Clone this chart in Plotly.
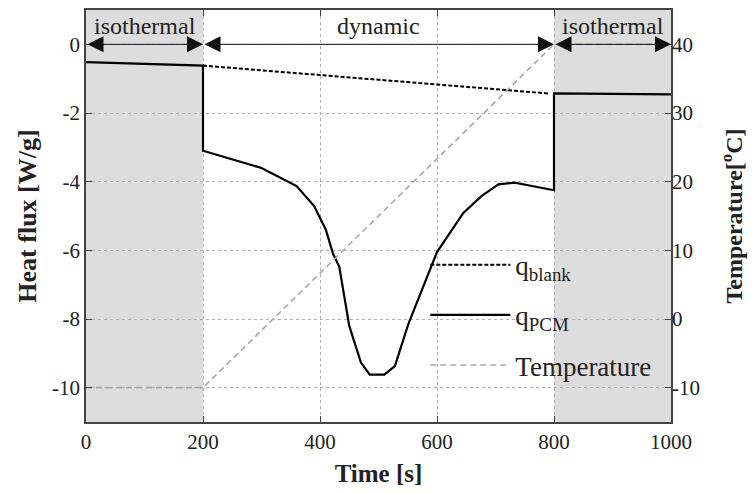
import plotly.graph_objects as go

# ---- data ----
time_pcm = [0, 200, 200, 250, 300, 360, 390, 410, 422, 433, 450, 470, 485, 510, 528,
            551, 575, 600, 645, 676, 705, 733, 760, 785, 800, 800, 1000]
q_pcm = [-0.52, -0.62, -3.10, -3.35, -3.60, -4.13, -4.71, -5.40, -6.09, -6.48, -8.20,
         -9.27, -9.62, -9.62, -9.37, -8.15, -7.10, -6.05, -4.91, -4.42, -4.08, -4.03,
         -4.12, -4.20, -4.25, -1.43, -1.46]
time_blank = [200, 790]
q_blank = [-0.62, -1.43]
time_temp = [0, 200, 800, 1000]
temperature = [-10, -10, 40, 40]

x_ticks = [0, 200, 400, 600, 800, 1000]
y_ticks = [-10, -8, -6, -4, -2, 0]
y_ticktext = ["-10", "-8", "-6", "-4", "-2", "0"]
y2_ticks = [-10, 0, 10, 20, 30, 40]
y2_ticktext = ["-10", "0", "10", "20", "30", "40"]
phases = [("isothermal", 0, 200), ("dynamic", 200, 800), ("isothermal", 800, 1000)]

FONT = "Liberation Serif"

fig = go.Figure()
fig.add_trace(go.Scatter(x=time_blank, y=q_blank, mode="lines", name="q<sub>blank</sub>",
                         line=dict(color="black", width=2, dash="4px,2px"), legendgroup="a"))
fig.add_trace(go.Scatter(x=time_pcm, y=q_pcm, mode="lines", name="q<sub>PCM</sub>",
                         line=dict(color="black", width=2.2), legendgroup="b"))
fig.add_trace(go.Scatter(x=time_temp, y=temperature, mode="lines", name="Temperature",
                         line=dict(color="#a8a8a8", width=1.6, dash="6px,4px"),
                         yaxis="y2", legendgroup="c"))

shapes = []
for name, a, b in phases:
    if name == "isothermal":
        shapes.append(dict(type="rect", xref="x", yref="paper", x0=a, x1=b, y0=0, y1=1,
                           fillcolor="#dddddd", line=dict(width=0), layer="below"))

annotations = []
for name, a, b in phases:
    annotations.append(dict(x=b, y=0, ax=a, ay=0, xref="x", yref="y", axref="x", ayref="y",
                            showarrow=True, arrowside="end+start", arrowhead=2,
                            arrowsize=3.2, arrowwidth=1, arrowcolor="#111",
                            standoff=0, startstandoff=0, text=""))
    annotations.append(dict(x=(a + b) / 2, y=0.52, xref="x", yref="y", text=name,
                            showarrow=False, font=dict(family=FONT, size=24, color="#222")))

fig.update_layout(
    width=756, height=494,
    margin=dict(l=86, r=85, t=8, b=72),
    paper_bgcolor="white", plot_bgcolor="rgba(0,0,0,0)",
    font=dict(family=FONT, size=21, color="#222"),
    shapes=shapes, annotations=annotations,
    xaxis=dict(range=[0, 1000], tickvals=x_ticks, ticks="inside", ticklen=6,
               showline=True, linecolor="#444", linewidth=1.5, mirror="ticks",
               showgrid=True, gridcolor="#b0b0b0", griddash="dot", gridwidth=1,
               zeroline=False,
               title=dict(text="<b>Time [s]</b>", font=dict(size=25), standoff=12)),
    yaxis=dict(range=[-11, 1], tickvals=y_ticks, ticktext=y_ticktext, ticks="inside",
               ticklen=6, showline=True, linecolor="#444", linewidth=1.5, mirror="ticks",
               showgrid=True, gridcolor="#b0b0b0", griddash="dot", gridwidth=1,
               zeroline=False,
               title=dict(text="<b>Heat flux [W/g]</b>", font=dict(size=26), standoff=8)),
    yaxis2=dict(range=[-15, 45], tickvals=y2_ticks, ticktext=y2_ticktext, ticks="inside",
                ticklen=6, overlaying="y", side="right", showgrid=False, zeroline=False,
                showline=False,
                title=dict(text="<b>Temperature[<sup>o</sup>C]</b>", font=dict(size=24),
                           standoff=26)),
    legend=dict(x=0.58, y=0.44, xanchor="left", yanchor="top",
                bgcolor="rgba(0,0,0,0)", font=dict(size=27, color="#222"),
                tracegroupgap=12, itemwidth=80),
    showlegend=True,
)

fig.write_html("out.html")
